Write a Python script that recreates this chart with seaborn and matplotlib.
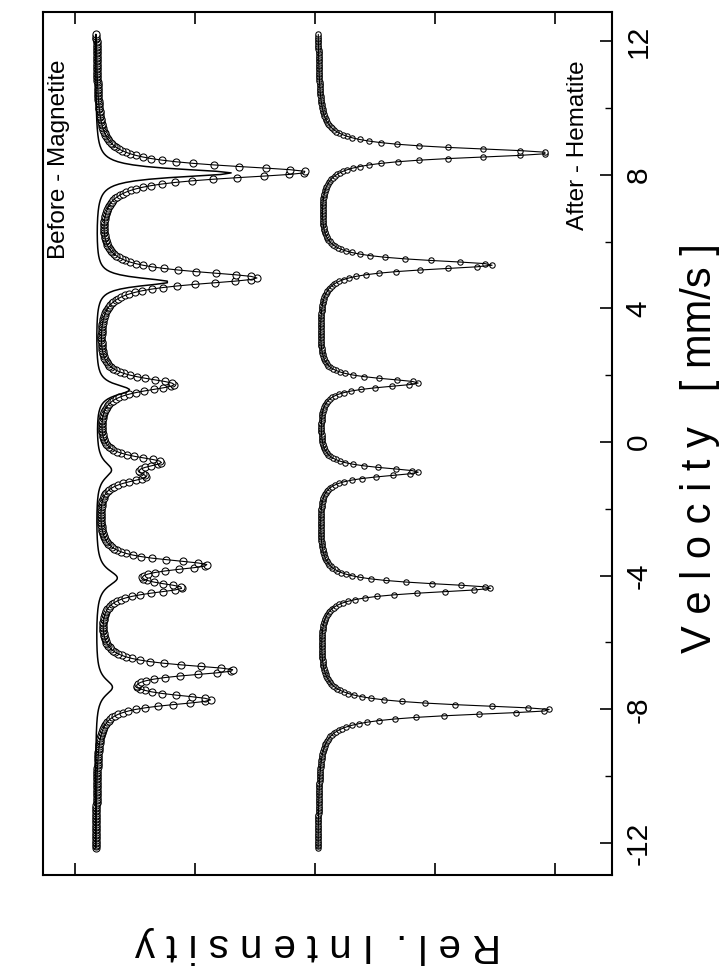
import numpy as np
import pandas as pd
import matplotlib
matplotlib.use("Agg")
import matplotlib.pyplot as plt
from matplotlib.ticker import MultipleLocator
import seaborn as sns

# ---------------- data ----------------
# velocity channels of the spectrometer (mm/s)
v_start, v_stop, n_channels = -12.15, 12.2, 512

# "Before - Magnetite": measured spectrum (baseline + absorption lines)
before_baseline = 1.83
before_centers = [8.08, 4.91, 1.72, -0.60, -1.05, -3.68, -4.37, -6.83, -7.72]
before_depths = [1.75, 1.33, 0.64, 0.48, 0.32, 0.87, 0.64, 1.10, 0.90]
before_widths = [0.24, 0.24, 0.24, 0.20, 0.20, 0.20, 0.20, 0.20, 0.20]

# "Before - Magnetite": thin fitted curve
fit_centers = [8.05, 4.79, 1.56, -0.84, -4.07, -7.34]
fit_depths = [1.13, 0.61, 0.28, 0.13, 0.18, 0.14]
fit_widths = [0.15, 0.15, 0.20, 0.30, 0.30, 0.30]

# "After - Hematite": measured spectrum
after_baseline = -0.02
after_centers = [8.65, 5.30, 1.77, -0.90, -4.37, -8.02]
after_depths = [1.92, 1.45, 0.83, 0.83, 1.44, 1.94]
after_widths = [0.19, 0.18, 0.17, 0.17, 0.18, 0.19]

velocity_ticks = [-12, -8, -4, 0, 4, 8, 12]
intensity_ticks = [2, 1, 0, -1, -2]


def spectrum(v, base, centers, depths, widths):
    out = np.full_like(v, base, dtype=float)
    for c, d, w in zip(centers, depths, widths):
        out -= d / (1.0 + ((v - c) / w) ** 2)
    return out


vel = np.linspace(v_start, v_stop, n_channels)
df_before = pd.DataFrame({"v": vel, "I": spectrum(vel, before_baseline, before_centers,
                                                   before_depths, before_widths)})
df_fit = pd.DataFrame({"v": vel, "I": spectrum(vel, before_baseline, fit_centers,
                                                fit_depths, fit_widths)})
df_after = pd.DataFrame({"v": vel, "I": spectrum(vel, after_baseline, after_centers,
                                                  after_depths, after_widths)})

# ---------------- figure ----------------
sns.set_theme(style="white")
plt.rcParams["font.family"] = ["Liberation Sans", "DejaVu Sans"]
plt.rcParams["axes.unicode_minus"] = False

fig = plt.figure(figsize=(7.28, 9.72), dpi=100)
ax = fig.add_axes([43 / 728, 1 - 875 / 972, (612 - 43) / 728, (875 - 12) / 972])

# Before
sns.scatterplot(data=df_before, x="I", y="v", ax=ax, marker="o", s=26,
                facecolor="white", edgecolor="black", linewidth=0.75, zorder=2,
                legend=False)
sns.lineplot(data=df_before, x="I", y="v", ax=ax, sort=False, estimator=None,
             color="black", linewidth=0.8, zorder=3, legend=False)
sns.lineplot(data=df_fit, x="I", y="v", ax=ax, sort=False, estimator=None,
             color="black", linewidth=1.1, zorder=3, legend=False)

# After
sns.scatterplot(data=df_after, x="I", y="v", ax=ax, marker="o", s=15,
                facecolor="white", edgecolor="black", linewidth=0.75, zorder=2,
                legend=False)
sns.lineplot(data=df_after, x="I", y="v", ax=ax, sort=False, estimator=None,
             color="black", linewidth=0.8, zorder=3, legend=False)

ax.set_xlim(2.267, -2.475)
ax.set_ylim(-12.96, 12.87)

for sp in ax.spines.values():
    sp.set_visible(True)
    sp.set_color("black")
    sp.set_linewidth(1.5)

ax.set_xticks(intensity_ticks)
ax.tick_params(axis="x", which="major", direction="in", length=8.5, width=1.2,
               top=True, bottom=True, labelbottom=False, labeltop=False,
               color="black")
ax.set_yticks(velocity_ticks)
ax.yaxis.set_minor_locator(MultipleLocator(2))
ax.tick_params(axis="y", which="major", direction="in", length=8.5, width=1.2,
               left=False, right=True, labelleft=False, labelright=True,
               labelsize=21.5, pad=9, color="black", labelcolor="black")
ax.tick_params(axis="y", which="minor", direction="in", length=5, width=1.0,
               left=False, right=True, color="black")
ax.set_yticklabels([str(t) for t in velocity_ticks])
for lab in ax.get_yticklabels():
    lab.set_rotation(90)
    lab.set_va("center")
    lab.set_ha("left")

ax.set_xlabel("")
ax.set_ylabel("")
ax.yaxis.set_label_position("right")
ax.set_ylabel("V e l o c i t y   [ mm/s ]", fontsize=30, rotation=90,
              ha="center", va="center", color="black")
ax.yaxis.set_label_coords(1.1547, 0.495)
ax.set_xlabel("R e l .  I n t e n s i t y", fontsize=29, rotation=180,
              ha="center", va="center", color="black")
ax.xaxis.set_label_coords(0.4833, -0.0811)

ax.text(2.133, 8.47, "Before - Magnetite", rotation=90, fontsize=17.5,
        ha="center", va="center", color="black")
ax.text(-2.19, 8.89, "After - Hematite", rotation=90, fontsize=17.5,
        ha="center", va="center", color="black")

fig.savefig("out.png", dpi=100)
